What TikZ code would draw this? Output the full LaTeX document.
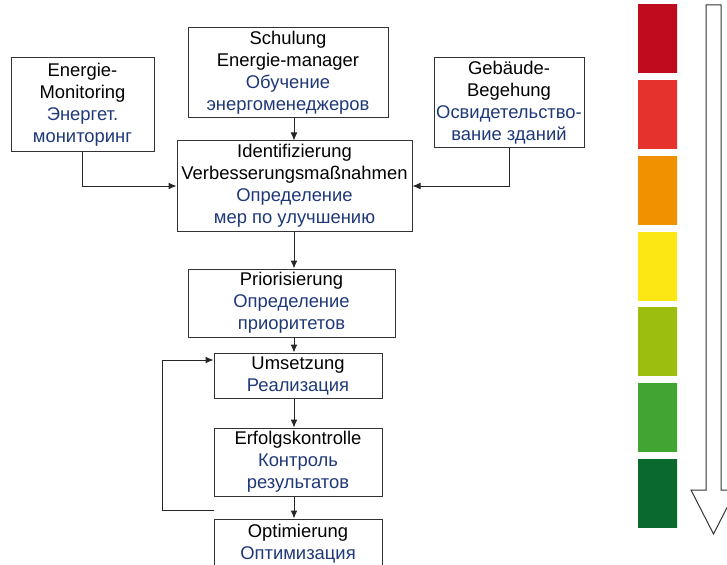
\documentclass[tikz,border=0pt]{standalone}
\usepackage{fontspec}
\setmainfont{Liberation Sans}
\usepackage{tikz}
\usetikzlibrary{arrows.meta}

\definecolor{rutext}{RGB}{31,56,120}
\definecolor{barA}{RGB}{192,10,30}
\definecolor{barB}{RGB}{230,50,45}
\definecolor{barC}{RGB}{242,145,0}
\definecolor{barD}{RGB}{252,230,20}
\definecolor{barE}{RGB}{155,190,15}
\definecolor{barF}{RGB}{65,165,50}
\definecolor{barG}{RGB}{10,105,45}
\newcommand{\rus}[1]{{\color{rutext}#1}}

\tikzset{
	stepbox/.style={draw=black!80, line width=1pt, align=center, inner sep=0pt,
		font=\fontsize{18.4}{22}\selectfont},
	flow/.style={-{Latex[length=8pt,width=7pt]}, line width=1pt, black!85}
}

\begin{document}
\begin{tikzpicture}[x=1pt,y=-1pt]
\useasboundingbox (0,0) rectangle (727,564);
\clip (0,0) rectangle (727,564);

% Schritte
\node[stepbox, minimum width=143pt, minimum height=94pt] (mon) at (82.5,105)
	{Energie-\\Monitoring\\\rus{Энергет.}\\\rus{мониторинг}};
\node[stepbox, minimum width=200pt, minimum height=90pt] (schul) at (288,73)
	{Schulung\\Energie-manager\\\rus{Обучение}\\\rus{энергоменеджеров}};
\node[stepbox, minimum width=150pt, minimum height=90pt] (geb) at (509,103)
	{Gebäude-\\Begehung\\\rus{Освидетельство-}\\\rus{вание зданий}};
\node[stepbox, minimum width=235pt, minimum height=90pt] (ident) at (294.5,186)
	{Identifizierung\\Verbesserungsmaßnahmen\\\rus{Определение}\\\rus{мер по улучшению}};
\node[stepbox, minimum width=207pt, minimum height=68pt] (prio) at (291.5,303)
	{Priorisierung\\\rus{Определение}\\\rus{приоритетов}};
\node[stepbox, minimum width=168pt, minimum height=45pt] (ums) at (298,375.5)
	{Umsetzung\\\rus{Реализация}};
\node[stepbox, minimum width=168pt, minimum height=68pt] (erf) at (298,462)
	{Erfolgskontrolle\\\rus{Контроль}\\\rus{результатов}};
\node[stepbox, minimum width=168pt, minimum height=50pt] (opt) at (298,544)
	{Optimierung\\\rus{Оптимизация}};

% Pfeile
\coordinate (spine) at (294,0);
\draw[flow] (schul.south -| spine) -- (ident.north -| spine);
\draw[flow] (mon.south) |- (ident.west);
\draw[flow] (geb.south) |- (ident.east);
\draw[flow] (ident.south -| spine) -- (prio.north -| spine);
\draw[flow] (prio.south -| spine) -- (ums.north -| spine);
\draw[flow] (ums.south -| spine) -- (erf.north -| spine);
\draw[flow] (erf.south -| spine) -- (opt.north -| spine);

% Rueckkopplung
\coordinate (fb) at (214,510);
\coordinate (loop) at (162,360);
\draw[flow] (fb) -| (loop) -- (loop -| ums.west);

% Farbskala
\foreach \c [count=\i from 0] in {barA,barB,barC,barD,barE,barF,barG} {
	\shade[top color=\c, middle color=\c!60!white, bottom color=\c]
		(638,5+75.67*\i) rectangle (677,5+75.67*\i+68);
}

% Pfeil nach unten
\draw[black!80, line width=1pt, fill=white]
	(706,5) -- (721,5) -- (721,490) -- (736,490) -- (713.5,534)
	-- (691,490) -- (706,490) -- cycle;
\end{tikzpicture}
\end{document}
